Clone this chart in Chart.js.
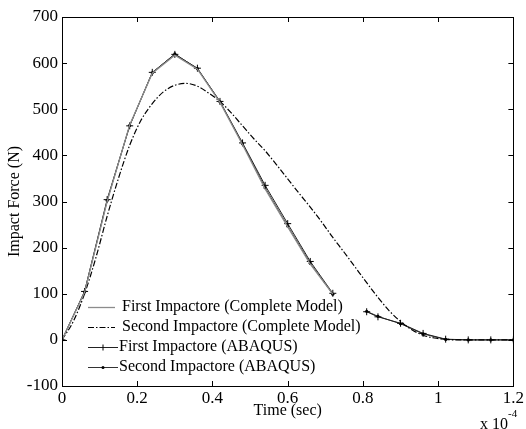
<!DOCTYPE html>
<html>
<head>
<meta charset="utf-8">
<script src="https://cdn.jsdelivr.net/npm/chart.js@4.4.0/dist/chart.umd.min.js"></script>
<style>
  html, body { margin: 0; padding: 0; background: #fff; }
  #wrap { width: 526px; height: 429px; }
</style>
</head>
<body>
<div id="wrap"><canvas id="c" width="526" height="429"></canvas></div>
<script>
// time axis is in units of 1e-4 sec
const abaqusTime = [0, 0.06, 0.12, 0.18, 0.24, 0.30, 0.36, 0.42, 0.48, 0.54, 0.60, 0.66, 0.72, 0.765, 0.81, 0.84, 0.90, 0.96, 1.02, 1.08, 1.14, 1.20];
const firstAbaqus  = [0, 105, 304, 464, 580, 619, 589, 517, 427, 335, 252, 170, 101, null, 61, 50, 36, 14, 1.5, 0, 0, 0];
const secondAbaqus = [0, 104, 302, 465, 579, 620, 588, 516, 425, 330, 247, 166, 99, null, 62, 51, 35, 13, 1, 0, 0, 0];

const firstModelTime = [0, 0.06, 0.12, 0.18, 0.24, 0.30, 0.36, 0.42, 0.48, 0.54, 0.60, 0.66, 0.72];
const firstModel     = [0, 103, 300, 466, 578, 617, 587, 515, 423, 327, 245, 164, 99];

const secondModelTime = [0, 0.03, 0.06, 0.09, 0.12, 0.15, 0.18, 0.21, 0.24, 0.27, 0.30, 0.33, 0.36, 0.39, 0.42, 0.45, 0.48, 0.51, 0.54, 0.57, 0.60, 0.63, 0.66, 0.69, 0.72, 0.75, 0.78, 0.81, 0.84, 0.87, 0.90, 0.93, 0.96, 0.99, 1.02, 1.05, 1.10, 1.15, 1.20];
const secondModel     = [0, 40, 100, 178, 268, 350, 422, 476, 512, 538, 552, 556, 550, 535, 517, 492, 464, 436, 410, 380, 349, 318, 288, 256, 222, 190, 157, 124, 92, 63, 40, 22, 10, 4, 1, 0, 0, 0, 0];

const xTicks = [0, 0.2, 0.4, 0.6, 0.8, 1, 1.2];
const yTicks = [-100, 0, 100, 200, 300, 400, 500, 600, 700];

const labels = [
  'First Impactore (Complete Model)',
  'Second Impactore (Complete Model)',
  'First Impactore (ABAQUS)',
  'Second Impactore (ABAQUS)'
];

function pts(xs, ys) { return xs.map((x, i) => ({ x: x, y: ys[i] })); }

const FONT = '"Liberation Serif", "Times New Roman", serif';

// frame, inward ticks, legend and exponent label
const decor = {
  id: 'decor',
  afterDraw(chart) {
    const ctx = chart.ctx;
    const a = chart.chartArea;
    const xs = chart.scales.x, ys = chart.scales.y;
    ctx.save();
    ctx.strokeStyle = '#000';
    ctx.lineWidth = 1;
    ctx.strokeRect(Math.round(a.left) + 0.5, Math.round(a.top) + 0.5, Math.round(a.right - a.left), Math.round(a.bottom - a.top));
    ctx.beginPath();
    xTicks.forEach(v => {
      const px = Math.round(xs.getPixelForValue(v)) + 0.5;
      ctx.moveTo(px, a.bottom); ctx.lineTo(px, a.bottom - 5);
      ctx.moveTo(px, a.top); ctx.lineTo(px, a.top + 5);
    });
    yTicks.forEach(v => {
      const py = Math.round(ys.getPixelForValue(v)) + 0.5;
      ctx.moveTo(a.left, py); ctx.lineTo(a.left + 5, py);
      ctx.moveTo(a.right, py); ctx.lineTo(a.right - 5, py);
    });
    ctx.stroke();

    // legend inside lower left
    ctx.font = '16px ' + FONT;
    ctx.textBaseline = 'middle';
    ctx.fillStyle = '#000';
    const rows = [307, 327, 347, 367];
    chart.data.datasets.forEach((ds, i) => {
      const y = rows[i] + 0.5;
      const x0 = 88, x1 = i < 2 ? 115 : 118;
      ctx.save();
      ctx.strokeStyle = ds.borderColor;
      ctx.lineWidth = ds.borderWidth;
      ctx.setLineDash(ds.borderDash || []);
      ctx.beginPath(); ctx.moveTo(x0, y); ctx.lineTo(x1, y); ctx.stroke();
      ctx.restore();
      const mx = (x0 + x1) / 2;
      if (ds.pointStyle === 'cross') {
        ctx.beginPath(); ctx.moveTo(mx, y - 3); ctx.lineTo(mx, y + 3); ctx.stroke();
      } else if (ds.pointStyle === 'circle' && ds.pointRadius > 0) {
        ctx.beginPath(); ctx.arc(mx, y, 1.5, 0, Math.PI * 2); ctx.fill();
      }
      ctx.fillText(ds.label, x1 + (i < 2 ? 7 : 1), rows[i]);
    });

    ctx.textBaseline = 'alphabetic';
    ctx.font = '16px ' + FONT;
    ctx.fillText('x 10', 480, 429);
    ctx.font = '11px ' + FONT;
    ctx.fillText('-4', 508, 417);
    ctx.restore();
  }
};

new Chart(document.getElementById('c'), {
  type: 'line',
  data: {
    datasets: [
      {
        label: labels[0],
        data: pts(firstModelTime, firstModel),
        borderColor: '#8c8c8c', borderWidth: 1.3,
        pointRadius: 0, tension: 0
      },
      {
        label: labels[1],
        data: pts(secondModelTime, secondModel),
        borderColor: '#000', borderWidth: 1.2,
        borderDash: [6, 2, 1.5, 2],
        pointRadius: 0, cubicInterpolationMode: 'monotone'
      },
      {
        label: labels[2],
        data: pts(abaqusTime, firstAbaqus),
        borderColor: '#222', borderWidth: 1,
        pointStyle: 'cross', pointRadius: 3.5, pointBorderColor: '#000', pointBorderWidth: 1,
        tension: 0, spanGaps: false
      },
      {
        label: labels[3],
        data: pts(abaqusTime, secondAbaqus),
        borderColor: '#333', borderWidth: 1,
        pointStyle: 'circle', pointRadius: 1.6, pointBackgroundColor: '#000', pointBorderColor: '#000', pointBorderWidth: 0,
        tension: 0, spanGaps: false
      }
    ]
  },
  options: {
    responsive: false,
    animation: false,
    layout: { padding: { top: 17, right: 7, left: 0, bottom: 0 } },
    plugins: { legend: { display: false }, tooltip: { enabled: false } },
    scales: {
      x: {
        type: 'linear', min: 0, max: 1.2,
        afterBuildTicks: s => { s.ticks = xTicks.map(v => ({ value: v })); },
        afterFit: s => { s.height = 43; },
        grid: { display: false, drawTicks: false, tickLength: 0 }, border: { display: false },
        ticks: {
          color: '#000', padding: 2, maxRotation: 0,
          font: { family: FONT, size: 17 },
          callback: v => String(parseFloat(v.toFixed(1)))
        },
        title: { display: true, text: 'Time (sec)', color: '#000', font: { family: FONT, size: 16 }, padding: { top: 0, bottom: 9 } }
      },
      y: {
        type: 'linear', min: -100, max: 700,
        afterBuildTicks: s => { s.ticks = yTicks.map(v => ({ value: v })); },
        afterFit: s => { s.width = 62; },
        grid: { display: false, drawTicks: false, tickLength: 0 }, border: { display: false },
        ticks: { color: '#000', padding: 4, font: { family: FONT, size: 17 } },
        title: { display: true, text: 'Impact Force (N)', color: '#000', font: { family: FONT, size: 16 }, padding: { top: 5, bottom: 2 } }
      }
    }
  },
  plugins: [decor]
});
</script>
</body>
</html>
